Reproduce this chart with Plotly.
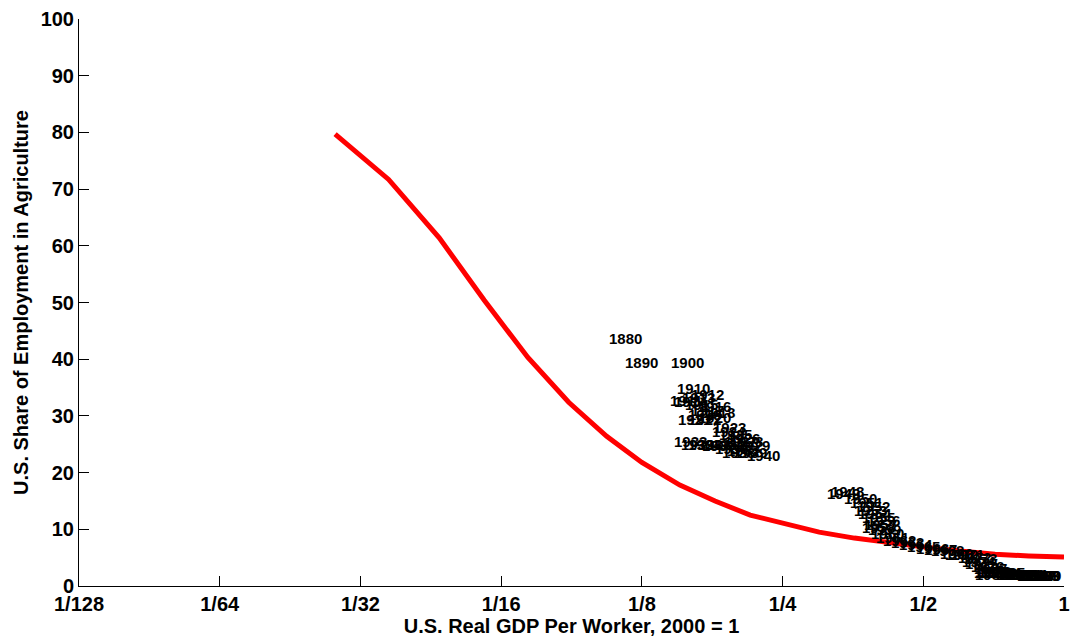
import plotly.graph_objects as go

# Model curve: log2 of GDP per worker (2000 = 1) and agricultural share (%)
curve_log2 = [-5.18, -4.80, -4.44, -4.12, -3.81, -3.52, -3.25, -3.00, -2.73, -2.48,
              -2.23, -1.98, -1.74, -1.49, -1.25, -1.00, -0.76, -0.49, -0.25, 0.0]
curve_share = [79.7, 71.7, 61.4, 50.4, 40.3, 32.4, 26.4, 21.8, 17.8, 15.0,
               12.5, 10.9, 9.5, 8.45, 7.6, 6.9, 6.2, 5.6, 5.3, 5.1]

# Observed data, labelled by year
years = [1880, 1890, 1900] + list(range(1910, 1941)) + list(range(1948, 2001))
obs_log2 = [
    -3.24, -3.13, -2.80,
    # 1910-1940
    -2.76, -2.81, -2.66, -2.72, -2.78, -2.70, -2.61, -2.66, -2.58, -2.68,
    -2.61, -2.75, -2.68, -2.50, -2.51, -2.46, -2.40, -2.42, -2.38, -2.33,
    -2.51, -2.61, -2.73, -2.78, -2.68, -2.58, -2.49, -2.40, -2.44, -2.35,
    -2.26,
    # 1948-2000
    -1.66, -1.69, -1.57, -1.53, -1.48, -1.50, -1.47, -1.44, -1.41, -1.43,
    -1.44, -1.40, -1.38, -1.34, -1.29, -1.24, -1.18, -1.12, -1.06, -1.00,
    -0.95, -0.89, -0.85, -0.81, -0.76, -0.72, -0.73, -0.71, -0.67, -0.65,
    -0.62, -0.64, -0.65, -0.62, -0.64, -0.59, -0.55, -0.52, -0.49, -0.47,
    -0.44, -0.42, -0.43, -0.42, -0.40, -0.38, -0.36, -0.34, -0.32, -0.30,
    -0.28, -0.27, -0.26,
]
obs_share = [
    43.7, 39.4, 39.4,
    # 1910-1940
    34.9, 32.7, 33.8, 33.3, 32.6, 32.0, 31.7, 31.0, 30.6, 30.3,
    29.8, 29.4, 29.4, 28.0, 27.3, 26.8, 26.1, 25.5, 25.4, 24.8,
    25.0, 25.0, 25.0, 25.5, 25.0, 24.7, 24.3, 23.9, 23.6, 23.6,
    23.1,
    # 1948-2000
    16.7, 16.4, 15.5, 14.8, 14.1, 13.4, 12.7, 12.0, 11.6, 10.9,
    10.4, 9.9, 9.3, 8.6, 8.1, 7.7, 7.4, 7.0, 6.7, 6.5,
    6.2, 5.8, 5.6, 5.5, 5.1, 4.8, 4.4, 4.0, 3.5, 3.0,
    2.6, 2.5, 2.3, 2.3, 2.1, 2.3, 2.3, 2.3, 2.1, 2.1,
    2.1, 2.1, 2.1, 2.1, 2.1, 2.1, 2.1, 1.9, 1.9, 1.9,
    1.9, 1.9, 1.9,
]

x_tickvals = [-7, -6, -5, -4, -3, -2, -1, 0]
x_ticktext = ["1/128", "1/64", "1/32", "1/16", "1/8", "1/4", "1/2", "1"]
y_tickvals = [0, 10, 20, 30, 40, 50, 60, 70, 80, 90, 100]

FONT = "Liberation Sans, Arial, sans-serif"

fig = go.Figure()
fig.add_trace(go.Scatter(
    x=curve_log2, y=curve_share, mode="lines",
    line=dict(color="#ff0000", width=5), hoverinfo="skip", showlegend=False,
))

for yr, xv, yv in zip(years, obs_log2, obs_share):
    fig.add_annotation(
        x=xv, y=yv, text="<b>%d</b>" % yr, showarrow=False,
        xanchor="left", yanchor="middle", borderpad=0,
        font=dict(family=FONT, size=15, color="black"),
    )

fig.update_layout(
    width=1078, height=642,
    margin=dict(l=79, r=8, t=18, b=56),
    paper_bgcolor="white", plot_bgcolor="white",
    showlegend=False,
    font=dict(family=FONT, size=20, color="black"),
    xaxis=dict(
        range=[-7, 0], tickvals=x_tickvals, ticktext=x_ticktext,
        showgrid=False, zeroline=False, showline=True, linecolor="black", linewidth=1,
        ticks="inside", ticklen=10, tickcolor="black",
        tickfont=dict(family=FONT, size=20, color="black", weight="bold"),
        title=dict(text="<b>U.S. Real GDP Per Worker, 2000 = 1</b>",
                   font=dict(family=FONT, size=20, color="black"), standoff=2),
    ),
    yaxis=dict(
        range=[0, 100], tickvals=y_tickvals,
        showgrid=False, zeroline=False, showline=True, linecolor="black", linewidth=1,
        ticks="inside", ticklen=10, tickcolor="black",
        tickfont=dict(family=FONT, size=20, color="black", weight="bold"),
        title=dict(text="<b>U.S. Share of Employment in Agriculture</b>",
                   font=dict(family=FONT, size=20, color="black"), standoff=6),
    ),
)

fig.write_html("out.html")
